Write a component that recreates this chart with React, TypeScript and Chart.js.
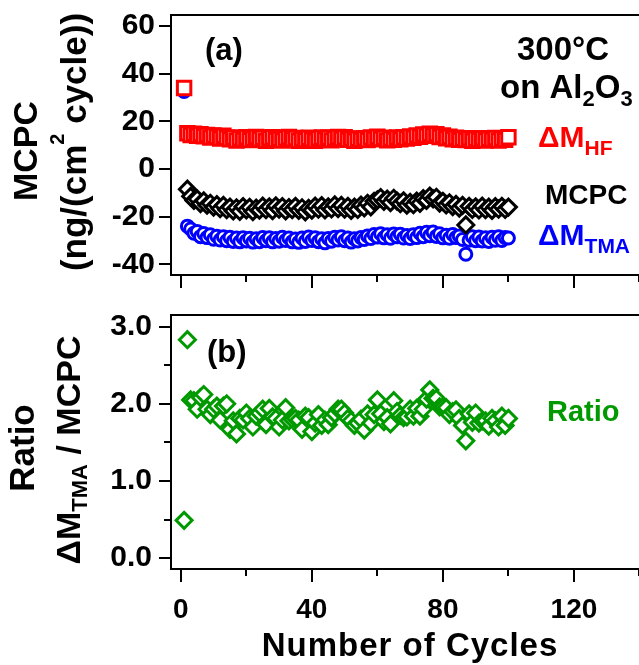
import React, { useEffect, useRef } from 'react';
import { Chart, registerables } from 'chart.js';

Chart.register(...registerables);

// ---------------- data ----------------
const cycles = [
  1, 2, 3, 4, 5, 6, 7, 8, 9, 10, 11, 12, 13, 14, 15, 16, 17, 18, 19, 20,
  21, 22, 23, 24, 25, 26, 27, 28, 29, 30, 31, 32, 33, 34, 35, 36, 37, 38, 39, 40,
  41, 42, 43, 44, 45, 46, 47, 48, 49, 50, 51, 52, 53, 54, 55, 56, 57, 58, 59, 60,
  61, 62, 63, 64, 65, 66, 67, 68, 69, 70, 71, 72, 73, 74, 75, 76, 77, 78, 79, 80,
  81, 82, 83, 84, 85, 86, 87, 88, 89, 90, 91, 92, 93, 94, 95, 96, 97, 98, 99, 100,
];

const dmHF = [
  34, 15, 14.2, 14.8, 13.9, 14.6, 13.7, 14.3, 13.2, 14,
  13.5, 12.8, 13.9, 13.1, 12.4, 13.2, 11.9, 12.9, 12.3, 13.3,
  12.1, 12.8, 13.4, 12.5, 13.1, 11.8, 12.9, 13.3, 12.2, 12.7,
  11.9, 12.9, 13.4, 12.5, 13, 11.8, 12.6, 12.1, 13.1, 12.4,
  11.8, 12.9, 13.2, 12.4, 13.1, 12, 12.9, 13.4, 12.6, 13.3,
  12.2, 12.8, 11.8, 12.7, 12.2, 12.9, 12.1, 13.2, 12.6, 13.5,
  12.6, 13.1, 12, 12.8, 12.2, 13.2, 12.4, 13.3, 12.8, 13.6,
  13.1, 14.1, 13.5, 14.5, 13.9, 14.8, 14, 14.6, 13.4, 14,
  12.9, 13.5, 12.5, 13.1, 12.2, 12.8, 12.1, 12.9, 11.8, 12.7,
  12.2, 12.9, 11.9, 12.7, 12.3, 13, 11.9, 12.8, 12.2, 13.3,
];

const mcpc = [
  null, -8.5, -11.5, -13.2, -12.6, -14.5, -13.4, -15.2, -14.4, -16,
  -15, -16.7, -15.3, -17.1, -16, -17.6, -16.3, -17.8, -15.8, -17.2,
  -16.1, -17.9, -16.4, -17.3, -15.6, -17.1, -15.9, -17.5, -15.5, -16.9,
  -15.8, -17.6, -16.2, -17.1, -15.7, -17.4, -16.3, -18, -16.5, -17.3,
  -15.6, -16.9, -15.4, -17.2, -15.9, -16.8, -15.1, -16.6, -15.3, -16.9,
  -15.7, -17.4, -16, -17, -15.2, -16.3, -14.4, -15.9, -13.6, -13,
  -12, -13.6, -12.7, -14.1, -12.3, -13.5, -14.6, -13.4, -15.2, -14,
  -15, -13.5, -14.4, -12.4, -13.2, -11.4, -12.6, -11.9, -14.3, -13.6,
  -15.1, -14.2, -15.8, -14.9, -16.4, -15.3, -23.5, -15.7, -17, -15.9,
  -17.2, -15.6, -17.1, -16, -17.4, -15.8, -16.9, -15.7, -17, -16,
];

const dmTMA = [
  32.5, -24, -25.2, -27, -26.2, -28.4, -27.1, -28.8, -27.6, -29.5,
  -28.2, -29.8, -28.4, -30.1, -28.7, -30.4, -29, -30.6, -28.9, -30.2,
  -29.1, -30.7, -29.3, -30.5, -28.8, -30.1, -28.9, -30.6, -29.2, -30.3,
  -28.7, -30, -29, -30.6, -29.4, -30.8, -29, -30.4, -28.6, -30,
  -28.9, -30.5, -29.3, -31, -29.2, -30.3, -28.7, -29.8, -28.5, -30.1,
  -29, -30.7, -29.3, -30.2, -28.8, -29.6, -28.1, -29.2, -27.5, -28.6,
  -27.2, -28.9, -27.6, -29.1, -27.3, -28.5, -27.4, -29, -27.9, -29.2,
  -27.6, -28.8, -27, -28.4, -26.6, -28, -26.5, -28.3, -27.2, -28.9,
  -27.8, -29.1, -27.5, -28.8, -28.1, -29.6, -35.8, -29.9, -28.4, -30.1,
  -28.6, -30.2, -28.9, -30.4, -28.7, -29.9, -28.5, -30, -28.8, -29,
];

const ratio = [
  0.49, 2.83, 2.05, 2.04, 1.93, 2.08, 2.12, 1.93, 1.86, 1.93,
  1.97, 1.79, 1.97, 2.0, 1.67, 1.78, 1.61, 1.81, 1.79, 1.88,
  1.81, 1.7, 1.84, 1.88, 1.93, 1.73, 1.94, 1.83, 1.81, 1.7,
  1.79, 1.95, 1.78, 1.8, 1.81, 1.79, 1.67, 1.84, 1.82, 1.64,
  1.75, 1.86, 1.72, 1.79, 1.73, 1.82, 1.87, 1.93, 1.93, 1.88,
  1.81, 1.78, 1.72, 1.75, 1.8, 1.66, 1.87, 1.75, 1.86, 2.05,
  1.87, 1.77, 1.82, 1.74, 2.04, 1.9, 1.85, 1.82, 1.83, 1.93,
  1.84, 1.94, 1.84, 1.93, 2.06, 2.18, 2.07, 2.07, 1.96, 1.96,
  1.95, 1.86, 1.9, 1.92, 1.81, 1.72, 1.52, 1.87, 1.76, 1.88,
  1.75, 1.78, 1.78, 1.71, 1.81, 1.78, 1.7, 1.84, 1.72, 1.81,
];

const xMajorTicks = [0, 40, 80, 120];
const xMinorTicks = [20, 60, 100, 140];
const topYTicks = [-40, -20, 0, 20, 40, 60];
const bottomYMajor = [0, 1, 2, 3];
const bottomYMinor = [0.5, 1.5, 2.5];

// ---------------- styling ----------------
const FONT = "'Liberation Sans', Arial, Helvetica, sans-serif";
const RED = '#ff0000';
const BLUE = '#0000ff';
const GREEN = '#009900';
const BLACK = '#000000';

const X_MIN = -3;
const X_MAX = 142;
const CANVAS_W = 660;

type Run = { t: string; size: number; dy?: number };

function setFont(ctx: CanvasRenderingContext2D, size: number) {
  ctx.font = `bold ${size}px ${FONT}`;
}

function drawRuns(
  ctx: CanvasRenderingContext2D,
  runs: Run[],
  x: number,
  y: number,
  align: 'left' | 'center',
  color: string,
  rotate = false,
  spacing = 0
) {
  ctx.save();
  ctx.translate(x, y);
  if (rotate) ctx.rotate(-Math.PI / 2);
  ctx.fillStyle = color;
  ctx.textBaseline = 'alphabetic';
  ctx.textAlign = 'left';
  (ctx as any).letterSpacing = `${spacing}px`;
  let w = 0;
  for (const r of runs) {
    setFont(ctx, r.size);
    w += ctx.measureText(r.t).width;
  }
  let cx = align === 'center' ? -w / 2 : 0;
  for (const r of runs) {
    setFont(ctx, r.size);
    ctx.fillText(r.t, cx, r.dy || 0);
    cx += ctx.measureText(r.t).width;
  }
  ctx.restore();
}

type DecorSpec = {
  xMajor: number[];
  xMinor: number[];
  yMajor: number[];
  yMinor: number[];
  texts: (ctx: CanvasRenderingContext2D) => void;
};

function decorPlugin(spec: DecorSpec) {
  return {
    id: 'decor',
    afterDraw(chart: any) {
      const ctx: CanvasRenderingContext2D = chart.ctx;
      const a = chart.chartArea;
      const sx = chart.scales.x;
      const sy = chart.scales.y;
      ctx.save();
      ctx.strokeStyle = BLACK;
      ctx.lineWidth = 2;
      ctx.strokeRect(a.left, a.top, a.right - a.left, a.bottom - a.top);
      ctx.beginPath();
      spec.xMajor.forEach((v) => {
        const p = Math.round(sx.getPixelForValue(v));
        ctx.moveTo(p, a.bottom);
        ctx.lineTo(p, a.bottom + 13);
      });
      spec.xMinor.forEach((v) => {
        const p = Math.round(sx.getPixelForValue(v));
        ctx.moveTo(p, a.bottom);
        ctx.lineTo(p, a.bottom + 7);
      });
      spec.yMajor.forEach((v) => {
        const p = Math.round(sy.getPixelForValue(v));
        ctx.moveTo(a.left, p);
        ctx.lineTo(a.left - 12, p);
      });
      spec.yMinor.forEach((v) => {
        const p = Math.round(sy.getPixelForValue(v));
        ctx.moveTo(a.left, p);
        ctx.lineTo(a.left - 7, p);
      });
      ctx.stroke();
      ctx.restore();
      spec.texts(ctx);
    },
  };
}

function dataset(label: string, ys: (number | null)[], style: string, radius: number, color: string) {
  return {
    label,
    data: cycles.map((x, i) => ({ x, y: ys[i] })),
    pointStyle: style,
    pointRadius: radius,
    pointHoverRadius: radius,
    pointBorderWidth: 3,
    pointBorderColor: color,
    pointBackgroundColor: '#ffffff',
    borderColor: color,
    backgroundColor: '#ffffff',
    showLine: false,
  };
}

function xScale(showLabels: boolean, height: number) {
  return {
    type: 'linear',
    min: X_MIN,
    max: X_MAX,
    afterBuildTicks: (s: any) => {
      s.ticks = xMajorTicks.map((v) => ({ value: v }));
    },
    ticks: {
      display: showLabels,
      font: { family: FONT, size: 28, weight: 'bold' },
      color: BLACK,
      padding: 24,
      maxRotation: 0,
      autoSkip: false,
    },
    grid: { display: false, drawTicks: false },
    border: { display: false },
    afterFit: (s: any) => {
      s.height = height;
      s.paddingLeft = 0;
      s.paddingRight = 0;
    },
  };
}

function yScale(min: number, max: number, ticks: number[], padding: number, fmt: (v: number) => string) {
  return {
    type: 'linear',
    min,
    max,
    afterBuildTicks: (s: any) => {
      s.ticks = ticks.map((v) => ({ value: v }));
    },
    ticks: {
      font: { family: FONT, size: 30, weight: 'bold' },
      color: BLACK,
      padding,
      autoSkip: false,
      callback: (v: any) => fmt(Number(v)),
    },
    grid: { display: false, drawTicks: false },
    border: { display: false },
    afterFit: (s: any) => {
      s.width = 171;
      s.paddingTop = 0;
      s.paddingBottom = 0;
    },
  };
}

function baseOptions(scales: any) {
  return {
    animation: false,
    responsive: false,
    devicePixelRatio: 1,
    events: [],
    layout: { padding: { top: 15, right: CANVAS_W - 646, left: 0, bottom: 0 } },
    plugins: { legend: { display: false }, tooltip: { enabled: false }, title: { display: false } },
    scales,
  };
}

export default function App() {
  const topRef = useRef<HTMLCanvasElement | null>(null);
  const bottomRef = useRef<HTMLCanvasElement | null>(null);

  useEffect(() => {
    const top = new Chart(topRef.current as HTMLCanvasElement, {
      type: 'scatter',
      data: {
        datasets: [
          dataset('ΔM HF', dmHF, 'rect', 9.5, RED),
          dataset('MCPC', mcpc, 'rectRot', 8, BLACK),
          dataset('ΔM TMA', dmTMA, 'circle', 6, BLUE),
        ],
      } as any,
      options: baseOptions({
        x: xScale(false, 25),
        y: yScale(-44.5, 64.6, topYTicks, 16, (v) => String(v)),
      }) as any,
      plugins: [
        decorPlugin({
          xMajor: xMajorTicks,
          xMinor: xMinorTicks,
          yMajor: topYTicks,
          yMinor: [],
          texts: (ctx) => {
            drawRuns(ctx, [{ t: 'MCPC', size: 34 }], 37, 151, 'center', BLACK, true);
            drawRuns(
              ctx,
              [
                { t: '(ng/(cm', size: 35 },
                { t: '2', size: 20, dy: -22 },
                { t: ' cycle))', size: 35 },
              ],
              86,
              142,
              'center',
              BLACK,
              true
            );
            drawRuns(ctx, [{ t: '(a)', size: 31 }], 205, 60, 'left', BLACK);
            drawRuns(ctx, [{ t: '300°C', size: 33 }], 563, 60, 'center', BLACK);
            drawRuns(
              ctx,
              [
                { t: 'on Al', size: 33 },
                { t: '2', size: 22, dy: 8 },
                { t: 'O', size: 33 },
                { t: '3', size: 22, dy: 8 },
              ],
              500,
              98,
              'left',
              BLACK
            );
            drawRuns(ctx, [{ t: 'ΔM', size: 30 }, { t: 'HF', size: 21, dy: 8 }], 538, 147, 'left', RED);
            drawRuns(ctx, [{ t: 'MCPC', size: 28 }], 545, 204, 'left', BLACK);
            drawRuns(ctx, [{ t: 'ΔM', size: 30 }, { t: 'TMA', size: 21, dy: 8 }], 538, 245, 'left', BLUE);
          },
        }) as any,
      ],
    });

    const bottom = new Chart(bottomRef.current as HTMLCanvasElement, {
      type: 'scatter',
      data: {
        datasets: [dataset('Ratio', ratio, 'rectRot', 8, GREEN)],
      } as any,
      options: baseOptions({
        x: xScale(true, 96),
        y: yScale(-0.14, 3.15, bottomYMajor, 19, (v) => v.toFixed(1)),
      }) as any,
      plugins: [
        decorPlugin({
          xMajor: xMajorTicks,
          xMinor: xMinorTicks,
          yMajor: bottomYMajor,
          yMinor: bottomYMinor,
          texts: (ctx) => {
            drawRuns(ctx, [{ t: 'Ratio', size: 35 }], 34, 148, 'center', BLACK, true);
            drawRuns(
              ctx,
              [
                { t: 'ΔM', size: 34 },
                { t: 'TMA', size: 22, dy: 7 },
                { t: ' / MCPC', size: 34 },
              ],
              80,
              150,
              'center',
              BLACK,
              true
            );
            drawRuns(ctx, [{ t: '(b)', size: 31 }], 207, 62, 'left', BLACK);
            drawRuns(ctx, [{ t: 'Ratio', size: 29 }], 547, 121, 'left', GREEN);
            drawRuns(ctx, [{ t: 'Number of Cycles', size: 33 }], 410, 356, 'center', BLACK, false, 1);
          },
        }) as any,
      ],
    });

    return () => {
      top.destroy();
      bottom.destroy();
    };
  }, []);

  return (
    <div
      style={{
        position: 'absolute',
        left: 0,
        top: 0,
        width: 639,
        height: 665,
        overflow: 'hidden',
        background: '#ffffff',
      }}
    >
      <canvas ref={topRef} width={CANVAS_W} height={300} style={{ position: 'absolute', left: 0, top: 0 }} />
      <canvas ref={bottomRef} width={CANVAS_W} height={365} style={{ position: 'absolute', left: 0, top: 300 }} />
    </div>
  );
}
